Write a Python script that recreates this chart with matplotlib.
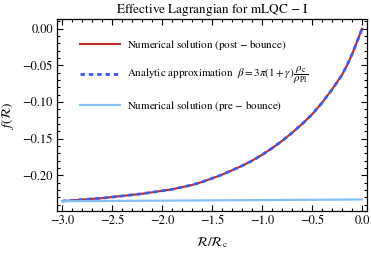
import matplotlib
matplotlib.use("Agg")
import matplotlib.pyplot as plt
from matplotlib.ticker import MultipleLocator

plt.rcParams['font.family'] = ['STIXGeneral', 'DejaVu Serif']
plt.rcParams['mathtext.fontset'] = 'stix'

# post-bounce numerical solution
R_post = [-3.0, -2.8, -2.6, -2.4, -2.2, -2.0, -1.9, -1.8, -1.7, -1.6, -1.5, -1.4,
          -1.3, -1.2, -1.1, -1.0, -0.9, -0.8, -0.7, -0.6, -0.5, -0.45, -0.4, -0.35,
          -0.3, -0.25, -0.2, -0.15, -0.1, -0.05, 0.0]
f_post = [-0.235, -0.233, -0.231, -0.228, -0.225, -0.221, -0.219, -0.216, -0.213,
          -0.209, -0.204, -0.199, -0.193, -0.187, -0.180, -0.172, -0.163, -0.153,
          -0.142, -0.130, -0.117, -0.109, -0.101, -0.092, -0.083, -0.073, -0.063,
          -0.050, -0.035, -0.018, 0.0]
# analytic approximation (coincides with post-bounce)
R_ana = R_post
f_ana = f_post
# pre-bounce numerical solution
R_pre = [-3.0, -2.0, -1.0, 0.0]
f_pre = [-0.2352, -0.2344, -0.2336, -0.2328]

fig = plt.figure(figsize=(3.71, 2.54), dpi=100)
ax = fig.add_axes([57/371, 43/254, 310/371, 192/254])

ax.plot(R_post, f_post, color='#c0282a', lw=1.5,
        label='Numerical solution (post $-$ bounce)')
ax.plot(R_ana, f_ana, color='#3b5cf0', lw=2.0, ls=(0, (1.6, 1.4)),
        label=r'Analytic approximation  $\beta=3\pi(1+\gamma)\,\dfrac{\rho_\mathrm{c}}{\rho_\mathrm{Pl}}$')
ax.plot(R_pre, f_pre, color='#86c0f5', lw=1.6,
        label='Numerical solution (pre $-$ bounce)')

ax.set_xlim(-3.05, 0.05)
ax.set_ylim(-0.2485, 0.0132)
ax.xaxis.set_major_locator(MultipleLocator(0.5))
ax.xaxis.set_minor_locator(MultipleLocator(0.1))
ax.yaxis.set_major_locator(MultipleLocator(0.05))
ax.yaxis.set_minor_locator(MultipleLocator(0.01))
ax.xaxis.set_major_formatter(plt.FuncFormatter(lambda v, p: f"{v:.1f}".replace('-', '\u2212')))
ax.yaxis.set_major_formatter(plt.FuncFormatter(lambda v, p: f"{v:.2f}".replace('-', '\u2212')))
ax.tick_params(which='both', direction='in', top=True, right=True, labelsize=9, width=0.8)
ax.tick_params(which='major', length=4, pad=3)
ax.tick_params(which='minor', length=2)
for s in ax.spines.values():
    s.set_linewidth(0.9)

ax.set_title('Effective Lagrangian for mLQC $-$ I', fontsize=9.5, pad=4)
ax.set_xlabel(r'$\mathcal{R}/\mathcal{R}_\mathrm{c}$', fontsize=9.5, labelpad=6)
ax.set_ylabel(r'$f(\mathcal{R})$', fontsize=9.5, labelpad=5)

ax.legend(loc='upper left', bbox_to_anchor=(0.055, 0.93), frameon=False, fontsize=7.9,
          handlelength=3.7, handletextpad=0.6, labelspacing=1.15, borderpad=0)

fig.savefig('out.png', dpi=100)
